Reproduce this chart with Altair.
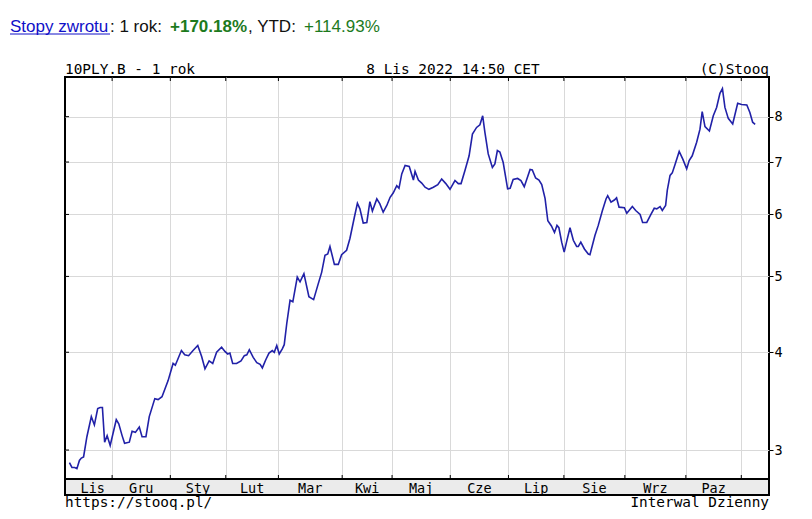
import altair as alt
import pandas as pd

# trading-day index (0 = start of axis) and 10Y yield values
day = [1.6, 2.5, 3.5, 4.3, 5.2, 5.9, 6.7, 7.9, 9.5, 10.6, 11.8, 12.7, 13.5, 14.3, 15.2, 16.3, 17.6, 18.5, 19.4, 20.6,
       21.5, 23.2, 24.2, 25.4, 26.8, 27.8, 29.2, 30.4, 32.4, 33.6, 35.0, 37.2, 39.0, 39.8, 42.0, 43.2, 44.6, 46.2, 47.9, 49.3,
       50.5, 52.0, 53.3, 54.7, 56.5, 57.7, 58.7, 59.5, 60.5, 61.9, 63.5, 64.7, 65.6, 66.5, 67.9, 69.2, 70.4, 71.2, 72.4, 73.6,
       74.8, 75.5, 76.4, 77.3, 78.4, 79.1, 80.0, 81.2, 82.2, 83.8, 84.8, 86.2, 88.0, 89.7, 91.2, 92.6, 93.8, 94.8, 95.6, 97.2,
       98.6, 99.8, 101.6, 102.8, 104.4, 105.5, 106.4, 107.6, 108.9, 110.0, 110.9, 112.5, 113.6, 114.8, 116.1, 117.3, 118.4, 119.7, 120.5, 121.5,
       122.7, 124.2, 125.7, 126.3, 127.5, 128.7, 129.9, 131.3, 132.9, 134.5, 135.9, 137.4, 138.9, 140.7, 141.9, 142.9, 144.3, 145.8, 147.0, 148.5,
       149.7, 150.7, 151.5, 152.7, 154.2, 155.1, 156.0, 156.9, 158.1, 159.7, 160.6, 161.7, 163.3, 164.5, 165.7, 167.8, 168.6, 169.8, 171.0, 172.0,
       173.2, 174.2, 175.5, 176.6, 177.5, 178.2, 179.2, 180.1, 181.1, 182.2, 183.4, 184.6, 185.2, 186.1, 187.4, 188.8, 189.4, 191.2, 192.4, 193.9,
       195.2, 195.8, 197.0, 198.2, 199.0, 199.9, 201.8, 202.7, 204.7, 205.9, 207.5, 208.4, 209.9, 211.4, 212.6, 213.5, 214.7, 215.5, 216.7, 217.3,
       218.3, 219.1, 220.1, 221.6, 222.9, 224.3, 225.2, 226.3, 227.9, 229.1, 229.9, 230.9, 232.5, 233.9, 235.1, 236.3, 237.2, 238.1, 239.3, 240.9,
       242.7, 244.1, 246.0, 247.1, 248.1, 249.0]
value = [2.89, 2.85, 2.85, 2.84, 2.91, 2.93, 2.94, 3.12, 3.31, 3.23, 3.39, 3.40, 3.40, 3.07, 3.13, 3.04, 3.18, 3.28, 3.24, 3.13,
         3.06, 3.07, 3.17, 3.16, 3.21, 3.12, 3.12, 3.31, 3.49, 3.48, 3.51, 3.68, 3.87, 3.85, 4.02, 3.97, 3.96, 4.02, 4.08, 3.95,
         3.81, 3.90, 3.87, 4.00, 4.06, 4.01, 3.98, 3.99, 3.87, 3.87, 3.90, 3.96, 3.97, 4.03, 3.94, 3.88, 3.86, 3.82, 3.91, 3.99,
         4.02, 4.00, 4.08, 3.98, 4.04, 4.09, 4.35, 4.66, 4.64, 4.99, 4.92, 5.04, 4.71, 4.67, 4.87, 5.06, 5.32, 5.34, 5.46, 5.18,
         5.18, 5.33, 5.40, 5.59, 5.95, 6.20, 6.10, 5.85, 5.86, 6.23, 6.06, 6.28, 6.19, 6.04, 6.16, 6.31, 6.39, 6.53, 6.48, 6.76,
         6.93, 6.91, 6.64, 6.81, 6.64, 6.58, 6.50, 6.46, 6.50, 6.55, 6.66, 6.57, 6.46, 6.63, 6.57, 6.57, 6.83, 7.13, 7.60, 7.75,
         7.81, 8.02, 7.64, 7.17, 6.89, 6.96, 7.24, 7.21, 6.99, 6.47, 6.48, 6.65, 6.67, 6.63, 6.51, 6.85, 6.84, 6.68, 6.64, 6.55,
         6.29, 5.89, 5.80, 5.69, 5.81, 5.77, 5.53, 5.37, 5.56, 5.77, 5.56, 5.46, 5.46, 5.53, 5.42, 5.34, 5.33, 5.64, 5.81, 6.07,
         6.28, 6.34, 6.22, 6.26, 6.30, 6.13, 6.12, 6.02, 6.14, 6.07, 6.00, 5.86, 5.86, 6.00, 6.11, 6.10, 6.14, 6.07, 6.16, 6.44,
         6.73, 6.78, 6.95, 7.22, 7.06, 6.86, 7.03, 7.13, 7.42, 7.71, 8.12, 7.77, 7.67, 8.02, 8.22, 8.57, 8.69, 8.22, 7.96, 7.83,
         8.32, 8.29, 8.28, 8.10, 7.87, 7.82]

month_bounds = [17, 38, 58, 77, 100, 118, 139, 160, 180, 202, 224, 244]
month_names = ["Lis", "Gru", "Sty", "Lut", "Mar", "Kwi", "Maj", "Cze", "Lip", "Sie", "Wrz", "Paz"]
month_label_pos = [10, 27.5, 48, 67.5, 88.5, 109, 128.5, 149.5, 170, 191, 213, 234]
y_ticks = [3, 4, 5, 6, 7, 8]

W, H = 704, 402
MONO = "DejaVu Sans Mono"
SANS = "Liberation Sans"
GRID = "#d9d9d9"
LINE = "#2121a8"
GREEN = "#1d7a1d"

df_line = pd.DataFrame({"day": day, "value": value})
df_bounds = pd.DataFrame({"day": month_bounds})
df_months = pd.DataFrame({"day": month_label_pos, "name": month_names})
df_yt = pd.DataFrame({"value": y_ticks})

x_enc = alt.X("day:Q", scale=alt.Scale(domain=[0, 254], nice=False, zero=False),
              axis=alt.Axis(values=month_bounds, grid=True, gridColor=GRID, labels=False,
                            ticks=False, domain=False, title=None))
y_enc = alt.Y("value:Q", scale=alt.Scale(type="log", domain=[2.755, 8.99], nice=False),
              axis=alt.Axis(orient="right", values=y_ticks, grid=True, gridColor=GRID, tickSize=4,
                            tickColor="black", labelFont=MONO, labelFontSize=13.5, labelColor="black",
                            labelPadding=1, domain=False, title=None, format="d"))

band = alt.Chart(pd.DataFrame({"a": [0]})).mark_rect(fill="#ebebeb", stroke="black", strokeWidth=2).encode(
    x=alt.value(0), x2=alt.value(W), y=alt.value(H), y2=alt.value(H + 16))

line = alt.Chart(df_line).mark_line(color=LINE, strokeWidth=1.6).encode(x=x_enc, y=y_enc)

top_ticks = alt.Chart(df_bounds).mark_rule(color="black", strokeWidth=1).encode(
    x=x_enc, y=alt.value(0), y2=alt.value(4))
bot_ticks = alt.Chart(df_bounds).mark_rule(color="black", strokeWidth=1).encode(
    x=x_enc, y=alt.value(H - 4), y2=alt.value(H))
left_ticks = alt.Chart(df_yt).mark_rule(color="black", strokeWidth=1).encode(
    y=y_enc, x=alt.value(0), x2=alt.value(4))

month_text = alt.Chart(df_months).mark_text(font=MONO, fontSize=13.5, color="black",
                                            align="center", baseline="alphabetic").encode(
    x=x_enc, text="name:N", y=alt.value(H + 13.5))


def label(txt, x, y, align="left", **kw):
    return alt.Chart(pd.DataFrame({"t": [txt]})).mark_text(align=align, baseline="alphabetic", **kw).encode(
        text="t:N", x=alt.value(x), y=alt.value(y))


hdr_y = -45
header = [
    label("Stopy zwrotu", -55, hdr_y, font=SANS, fontSize=17, color="#1010c8"),
    label(": 1 rok: ", 45, hdr_y, font=SANS, fontSize=17, color="#111111"),
    label("+170.18%", 105, hdr_y, font=SANS, fontSize=17, fontWeight="bold", color=GREEN),
    label(", YTD: ", 183, hdr_y, font=SANS, fontSize=17, color="#111111"),
    label("+114.93%", 239, hdr_y, font=SANS, fontSize=17, color=GREEN),
    label("10PLY.B - 1 rok", 0, -3.5, font=MONO, fontSize=14.4, color="black"),
    label("8 Lis 2022 14:50 CET", 388, -3.5, align="center", font=MONO, fontSize=14.4, color="black"),
    label("(C)Stooq", W, -3.5, align="right", font=MONO, fontSize=14.4, color="black"),
    label("https://stooq.pl/", 0, 430, font=MONO, fontSize=14.4, color="black"),
    label("Interwal Dzienny", W, 430, align="right", font=MONO, fontSize=14.4, color="black"),
]
underline = alt.Chart(pd.DataFrame({"a": [0]})).mark_rule(color="#1010c8", strokeWidth=1).encode(
    x=alt.value(-55), x2=alt.value(45), y=alt.value(-43), y2=alt.value(-43))

chart = alt.layer(band, line, top_ticks, bot_ticks, left_ticks, month_text, underline, *header).properties(
    width=W, height=H,
    padding={"left": 57, "top": 69, "right": 35, "bottom": 32},
    autosize=alt.AutoSizeParams(type="none"),
    background="white",
).configure_view(stroke="black", strokeWidth=2)

chart.save("out.html", embed_options={"renderer": "svg", "actions": False})
